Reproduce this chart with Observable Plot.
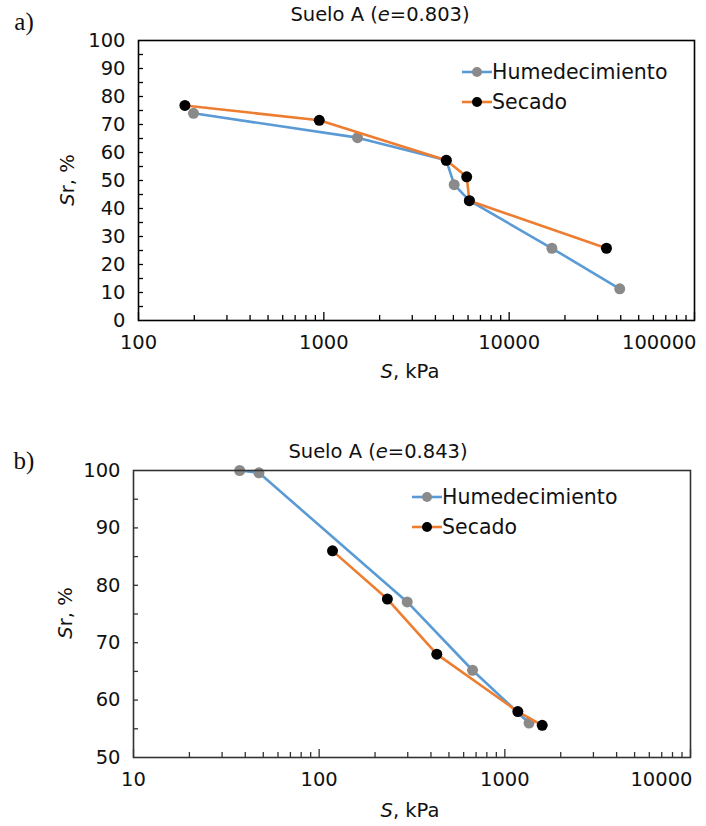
<!DOCTYPE html>
<html><head><meta charset="utf-8">
<script src="https://cdn.jsdelivr.net/npm/d3@7"></script>
<script src="https://cdn.jsdelivr.net/npm/@observablehq/plot@0.6"></script>
<style>
body{margin:0;background:#fff;font-family:"DejaVu Sans",Verdana,sans-serif;color:#111;}
#wrap{position:relative;width:706px;height:826px;overflow:hidden;}
.abs{position:absolute;white-space:nowrap;line-height:1;}
.panel{font-family:"Liberation Serif","DejaVu Serif",serif;font-size:25px;}
svg{position:absolute;left:0;}
</style></head><body><div id="wrap"></div>
<script>
// ---- data: panel a) Suelo A (e=0.803)
const wetA_S  = [198, 1520, 4580, 5050, 6100, 17000, 39500];
const wetA_Sr = [74.0, 65.3, 57.2, 48.5, 42.8, 25.8, 11.3];
const dryA_S  = [178, 945, 4580, 5900, 6100, 33500];
const dryA_Sr = [76.8, 71.5, 57.2, 51.3, 42.8, 25.8];
// ---- data: panel b) Suelo A (e=0.843)
const wetB_S  = [37.3, 47.4, 298, 670, 1350];
const wetB_Sr = [100, 99.6, 77.1, 65.2, 56.0];
const dryB_S  = [118, 233, 430, 1175, 1590];
const dryB_Sr = [86.0, 77.6, 68.0, 58.0, 55.6];
// ---- axes
const xTicksA = [100, 1000, 10000, 100000];
const xLabelsA = ["100", "1000", "10000", "100000"];
const yTicksA = [0, 10, 20, 30, 40, 50, 60, 70, 80, 90, 100];
const xTicksB = [10, 100, 1000, 10000];
const xLabelsB = ["10", "100", "1000", "10000"];
const yTicksB = [50, 60, 70, 80, 90, 100];
const seriesNames = ["Humedecimiento", "Secado"];
const titleA = "0.803", titleB = "0.843";

const BLUE = "#5B9BD5", ORANGE = "#ED7D31", GRAY = "#8a8a8a", BLACK = "#000";
const FONT = "DejaVu Sans";
const wrap = document.getElementById("wrap");

function minorTicks(dom) {
  const out = [];
  for (let d = dom[0]; d < dom[1]; d *= 10) for (let k = 2; k <= 9; k++) out.push(d * k);
  return out;
}
function ySub(dom) { const o = []; for (let v = dom[0] + 5; v < dom[1]; v += 5) o.push(v); return o; }

function chart(cfg) {
  const {wetS, wetSr, dryS, drySr, xDom, yDom, xTicks, xLabels, yTicks, top, height, mt, mb, ml, mr, frameColor} = cfg;
  const wet = wetS.map((s, i) => ({S: s, Sr: wetSr[i]}));
  const dry = dryS.map((s, i) => ({S: s, Sr: drySr[i]}));
  const pw = 706 - ml - mr, ph = height - mt - mb;
  const tstyle = {fontFamily: FONT, fontSize: 19.5, fill: "#111"};
  const p = Plot.plot({
    width: 706, height, marginTop: mt, marginBottom: mb, marginLeft: ml, marginRight: mr,
    x: {type: "log", domain: xDom, axis: null},
    y: {domain: yDom, axis: null},
    style: {background: "transparent", overflow: "visible"},
    marks: [
      Plot.tickY(ySub(yDom), {y: d => d, insetRight: pw - 5, stroke: frameColor, strokeWidth: 1.3}),
      Plot.tickX(minorTicks(xDom), {x: d => d, insetTop: ph - 5, stroke: frameColor, strokeWidth: 1.3}),
      Plot.tickX(xTicks, {x: d => d, insetTop: ph - 8, stroke: frameColor, strokeWidth: 1.3}),
      Plot.lineY(wet, {x: "S", y: "Sr", stroke: BLUE, strokeWidth: 2.6}),
      Plot.dot(wet, {x: "S", y: "Sr", r: 5.5, fill: GRAY}),
      Plot.lineY(dry, {x: "S", y: "Sr", stroke: ORANGE, strokeWidth: 2.6}),
      Plot.dot(dry, {x: "S", y: "Sr", r: 5.5, fill: BLACK}),
      Plot.frame({stroke: frameColor, strokeWidth: 1.6}),
      Plot.text(yTicks, {y: d => d, text: d => String(d), frameAnchor: "left", dx: -13, textAnchor: "end", ...tstyle}),
      Plot.text(xTicks.slice(0, -1), {x: d => d, text: (d, i) => xLabels[i], frameAnchor: "bottom", dy: 28, ...tstyle}),
      Plot.text(xTicks.slice(-1), {x: d => d, text: () => xLabels[xLabels.length - 1], frameAnchor: "bottom", dy: 28, dx: 2, textAnchor: "end", ...tstyle})
    ]
  });
  p.style.top = top + "px";
  wrap.appendChild(p);
}

function addText(html, x, y, cls, extra) {
  const d = document.createElement("div");
  d.className = "abs " + (cls || "");
  d.innerHTML = html;
  d.style.left = x + "px"; d.style.top = y + "px";
  d.style.transform = "translate(-50%,-50%)" + (extra || "");
  wrap.appendChild(d);
  return d;
}
function legend(x, y, gap) {
  const items = [[BLUE, GRAY], [ORANGE, BLACK]];
  items.forEach(([lc, mc], i) => {
    const d = document.createElement("div");
    d.className = "abs";
    d.style.left = x + "px"; d.style.top = (y + i * gap - 11) + "px";
    d.style.display = "flex"; d.style.alignItems = "center"; d.style.fontSize = "20.5px";
    d.innerHTML = `<svg width="30" height="22" style="position:static"><line x1="0" x2="30" y1="11" y2="11" stroke="${lc}" stroke-width="2.6"/><circle cx="15" cy="11" r="5" fill="${mc}"/></svg><span>${seriesNames[i]}</span>`;
    wrap.appendChild(d);
  });
}

// panel a
chart({wetS: wetA_S, wetSr: wetA_Sr, dryS: dryA_S, drySr: dryA_Sr, xDom: [100, 100000], yDom: [0, 100],
  xTicks: xTicksA, xLabels: xLabelsA, yTicks: yTicksA, top: 0, height: 390, mt: 40, mb: 70, ml: 138, mr: 12, frameColor: "#000"});
addText("a)", 24, 21, "panel");
addText(`Suelo A (<i>e</i>=${titleA})`, 380, 15, "", "");
addText(`<i>S</i>r, %`, 68, 180, "", " rotate(-90deg)");
addText(`<i>S</i>, kPa`, 410, 372, "", "");
legend(462, 72, 30);

// panel b
chart({wetS: wetB_S, wetSr: wetB_Sr, dryS: dryB_S, drySr: dryB_Sr, xDom: [10, 10000], yDom: [50, 100],
  xTicks: xTicksB, xLabels: xLabelsB, yTicks: yTicksB, top: 390, height: 436, mt: 80, mb: 69, ml: 133, mr: 16, frameColor: "#333"});
addText("b)", 24, 460, "panel");
addText(`Suelo A (<i>e</i>=${titleB})`, 378, 452, "", "");
addText(`<i>S</i>r, %`, 66, 613, "", " rotate(-90deg)");
addText(`<i>S</i>, kPa`, 410, 811, "", "");
legend(412, 497, 30);

wrap.querySelectorAll(".abs").forEach(e => { if (!e.style.fontSize) e.style.fontSize = e.classList.contains("panel") ? "25px" : "19.5px"; });
</script></body></html>
